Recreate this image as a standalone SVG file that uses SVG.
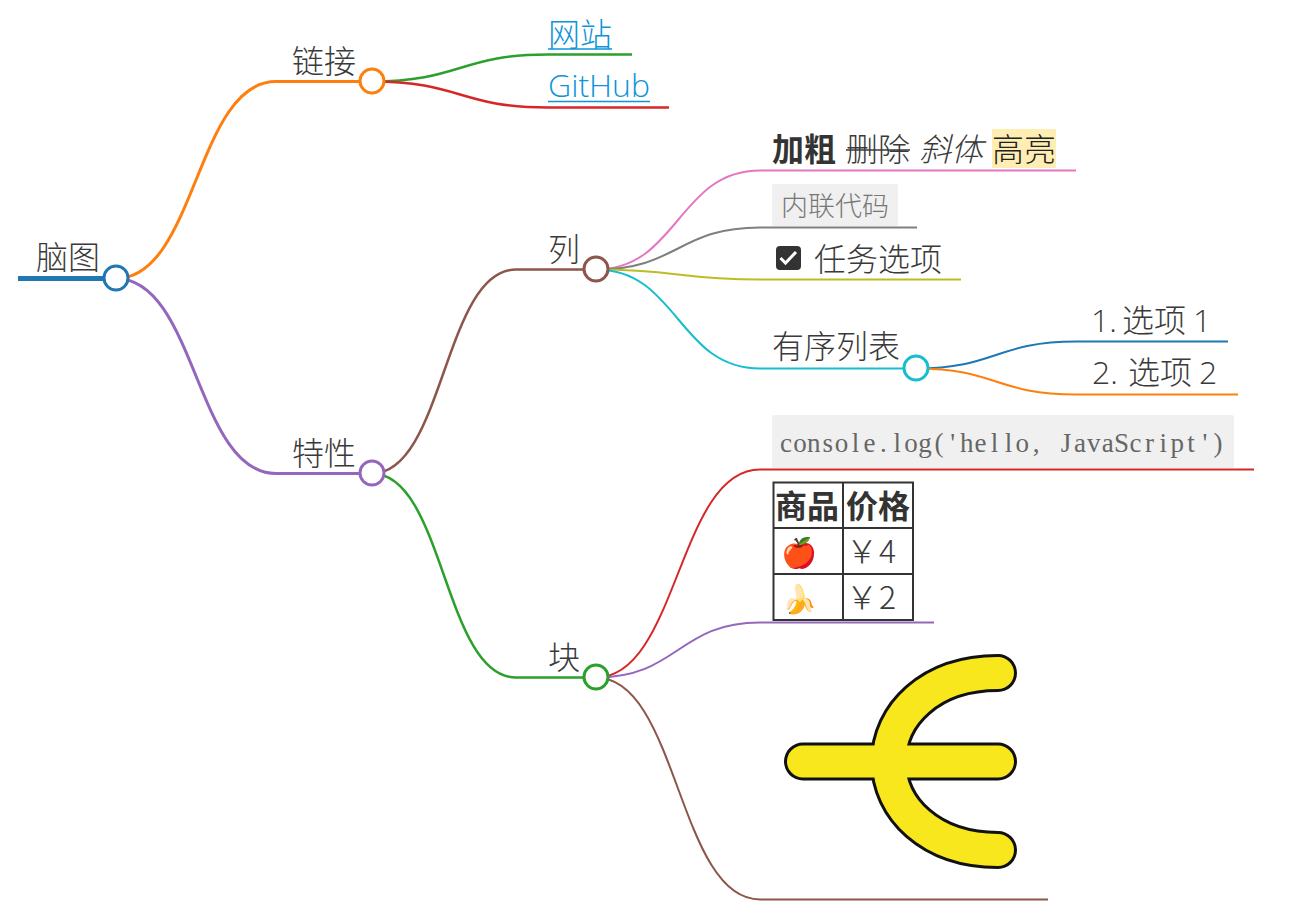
<svg xmlns="http://www.w3.org/2000/svg" width="1290" height="912" viewBox="0 0 1290 912">
<style>
text{font-family:"Noto Sans CJK SC","Noto Sans",sans-serif;font-size:32px;font-weight:300;fill:#3a3a3a}
.b{font-weight:700;fill:#333}
.l{fill:#0e94d8}
.a1{fill:none;stroke-width:3}
.a2{fill:none;stroke-width:2.500}
.a3{fill:none;stroke-width:2}
.n{fill:#fff;stroke-width:3}
.lat{font-family:"Open Sans","Noto Sans CJK SC",sans-serif}
.code{font-size:27px;fill:#777}
.mono{font-family:"Liberation Serif","Noto Sans CJK SC",serif;font-size:27px;fill:#666;font-weight:400;text-anchor:middle}
.g{stroke:#333;stroke-width:2;fill:none}
</style>
<rect width="1290" height="912" fill="#fff"/>
<g id="connectors" transform="translate(0 .5)">
<path d="M18 278H104" fill="none" stroke="#1f77b4" stroke-width="5"/>
<path class="a1" stroke="#ff7f0e" d="M116 278C196 278 196 81 276 81H360"/>
<path class="a1" stroke="#9467bd" d="M116 278C196 278 196 473 276 473H360"/>
<path class="a2" stroke="#2ca02c" d="M372 81C460 81 460 54 548 54H632"/>
<path class="a2" stroke="#d62728" d="M372 81C460 81 460 107 548 107H669"/>
<path class="a2" stroke="#8c564b" d="M372 473C444 473 444 269 516 269H584"/>
<path class="a2" stroke="#2ca02c" d="M372 473C444 473 444 677 516 677H584"/>
<path class="a3" stroke="#e377c2" d="M596 269C678 269 678 170 760 170H1076"/>
<path class="a3" stroke="#7f7f7f" d="M596 269C678 269 678 227 760 227H917"/>
<path class="a3" stroke="#bcbd22" d="M596 269C678 269 678 279 760 279H961"/>
<path class="a3" stroke="#17becf" d="M596 269C678 269 678 368 760 368H904"/>
<path class="a3" stroke="#1f77b4" d="M916 368C996 368 996 341 1076 341H1228"/>
<path class="a3" stroke="#ff7f0e" d="M916 368C996 368 996 394 1076 394H1238"/>
<path class="a3" stroke="#d62728" d="M596 677C678 677 678 469 760 469H1254"/>
<path class="a3" stroke="#9467bd" d="M596 677C678 677 678 622 760 622H934"/>
<path class="a3" stroke="#8c564b" d="M596 677C678 677 678 899 760 899H1048"/>
</g>
<g id="root"><text x="36" y="269">脑图</text><circle class="n" cx="116" cy="278" r="12" stroke="#1f77b4"/></g>
<g id="links"><text x="292" y="73">链接</text><circle class="n" cx="372" cy="81" r="12" stroke="#ff7f0e"/></g>
<g id="site"><text class="l" x="548" y="46">网站</text><path d="M548 49H612" stroke="#0e94d8" stroke-width="1.500"/></g>
<g id="github"><text class="l lat" x="548" y="97">GitHub</text><path d="M548 101.500H650" stroke="#0e94d8" stroke-width="1.500"/></g>
<g id="features"><text x="292" y="465">特性</text><circle class="n" cx="372" cy="473" r="12" stroke="#9467bd"/></g>
<g id="list"><text x="548" y="261">列</text><circle class="n" cx="596" cy="269" r="12" stroke="#8c564b"/></g>
<g id="block"><text x="548" y="669">块</text><circle class="n" cx="596" cy="677" r="12" stroke="#2ca02c"/></g>
<g id="styles">
<rect x="992" y="129" width="64" height="39" fill="#ffeeb3"/>
<text class="b" x="772" y="161">加粗</text>
<text x="846" y="161">删除</text><path d="M846 150H910" stroke="#3a3a3a" stroke-width="1.500"/>
<text x="919" y="161" font-style="italic">斜体</text>
<text x="992" y="161" style="fill:#222">高亮</text>
</g>
<g id="inline-code"><rect x="772" y="184" width="126" height="42" rx="2" fill="#f0f0f0"/><text class="code" x="781" y="216">内联代码</text></g>
<g id="task"><rect x="776" y="246" width="25" height="24" rx="4" fill="#333"/><path d="M780.500 258l5 5 10.500-11" fill="none" stroke="#fff" stroke-width="3"/><text x="814" y="271">任务选项</text></g>
<g id="ordered"><text x="772" y="358">有序列表</text><circle class="n" cx="916" cy="368" r="12" stroke="#17becf"/></g>
<g id="opt1"><text class="lat" x="1091" y="332">1.<tspan x="1122">选项</tspan><tspan x="1193">1</tspan></text></g>
<g id="opt2"><text class="lat" x="1092" y="384">2.<tspan x="1128">选项</tspan><tspan x="1199">2</tspan></text></g>
<g id="code-block"><rect x="772" y="415" width="462" height="53" rx="2" fill="#f0f0f0"/><text class="mono" y="452" x="786 799.900 813.800 827.700 841.600 855.500 869.400 883.300 897.200 911.100 925 938.900 952.800 966.700 980.600 994.500 1008.400 1022.300 1036.200 1050.100 1066 1079.900 1093.800 1107.700 1121.600 1135.500 1149.400 1163.300 1177.200 1191.100 1205 1218">console.log('hello, JavaScript')</text></g>
<g id="table">
<path class="g" d="M773.500 482.500H913V620H773.500ZM843 482.500V620M773.500 528H913M773.500 574H913"/>
<text class="b" x="775" y="518">商品</text>
<text class="b" x="846" y="518">价格</text>
<text x="781" y="563" style="font-size:29px">🍎</text>
<text x="846" y="563">￥<tspan x="879">4</tspan></text>
<text x="782" y="609" style="font-size:28px">🍌</text>
<text x="846" y="609">￥<tspan x="879">2</tspan></text>
</g>
<g id="image">
<g fill="none" stroke-linecap="round">
<path d="M803 761.500H998M998 673C930 673 889 715 889 761.500C889 808 930 850 998 850" stroke="#111" stroke-width="38"/>
<path d="M803 761.500H998M998 673C930 673 889 715 889 761.500C889 808 930 850 998 850" stroke="#f8e71c" stroke-width="32"/>
</g>
</g>
</svg>
